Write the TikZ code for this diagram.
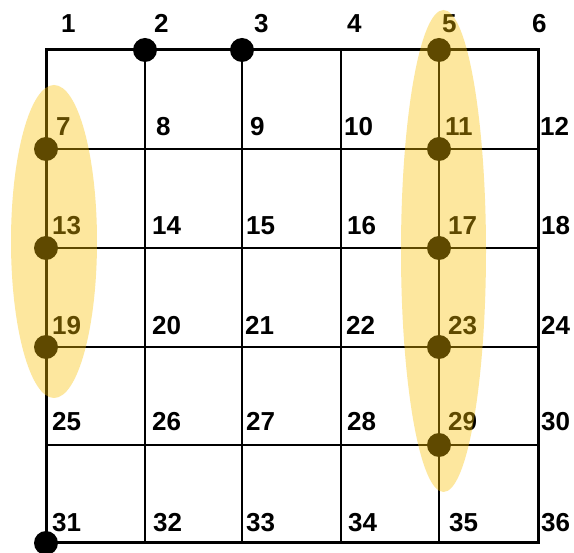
\documentclass[tikz,border=0pt]{standalone}
\usepackage{fontspec}
\setmainfont{Liberation Sans}
\usetikzlibrary{shapes.geometric}
\definecolor{hlgold}{RGB}{250,194,0}
\begin{document}
\begin{tikzpicture}[x=1pt,y=-1pt,
  frame/.style={line width=3pt,line join=miter},
  gridline/.style={line width=1.7pt},
  dot/.style={circle,fill=black,inner sep=0pt,minimum size=24pt},
  num/.style={anchor=base west,inner sep=0pt,font=\fontsize{26}{26}\selectfont\bfseries},
  hl/.style={ellipse,fill=hlgold,fill opacity=0.38,draw=none,inner sep=0pt}]
\useasboundingbox (0,0) rectangle (574,553);
\fill[white] (0,0) rectangle (574,553);
% vertices
\foreach \r [count=\i from 0] in {50,149,248,347,445,543}{
  \foreach \c [count=\j from 1] in {46,145,242,341,439,538}{
    \pgfmathtruncatemacro\n{6*\i+\j}
    \coordinate (v\n) at (\c,\r);
  }
}
% grid
\foreach \a/\b in {v2/v32,v3/v33,v4/v34,v5/v35,v7/v12,v13/v18,v19/v24,v25/v30}
  \draw[gridline] (\a) -- (\b);
\draw[frame] (v1) -- (v6) -- (v36) -- (v31) -- cycle;
% dots
\foreach \k in {2,3,5,7,11,13,17,19,23,29,31}
  \node[dot] (d\k) at (v\k) {};
% labels
\foreach \k/\x/\y in {1/61/33,2/154/33,3/254/33,4/347/33,5/442/33,6/532/33,
  7/56/136,8/156/136,9/250/136,10/344/136,11/445/136,12/540/136,
  13/52/235,14/152/235,15/246/235,16/347/235,17/448/235,18/541/235,
  19/52/335,20/152/335,21/245/335,22/346/335,23/448/335,24/541/335,
  25/52/431,26/152/431,27/246/431,28/347/431,29/448/431,30/541/431,
  31/52/532,32/153/532,33/246/532,34/348/532,35/449/532,36/541/532}
  \node[num] (n\k) at (\x,\y) {\k};
% highlight ellipses
\node[hl,minimum width=86pt,minimum height=313pt] (hlL) at (54,241.5) {};
\node[hl,minimum width=85pt,minimum height=482pt] (hlR) at (443.5,251) {};
\end{tikzpicture}
\end{document}
